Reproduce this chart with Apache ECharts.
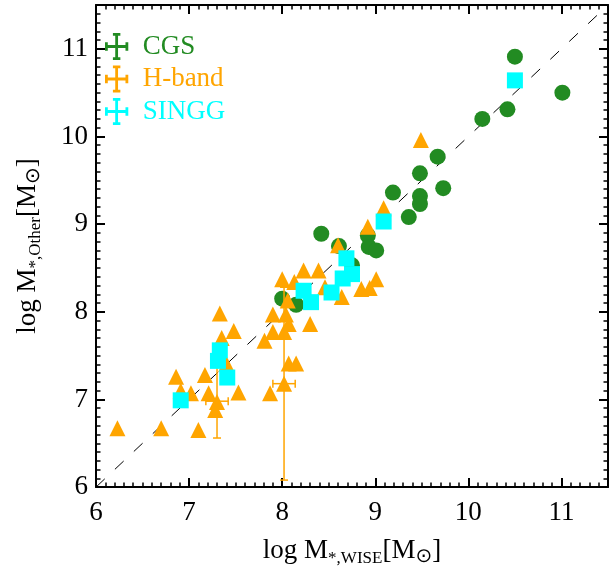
<!DOCTYPE html>
<html><head><meta charset="utf-8">
<script src="https://cdn.jsdelivr.net/npm/echarts@6/dist/echarts.min.js"></script>
<style>html,body{margin:0;padding:0;background:#fff}#c{width:610px;height:572px}</style>
</head><body><div id="c"></div>
<script>
// ---- data ----
const cgsX = [8.00, 8.15, 8.42, 8.61, 8.75, 8.92, 8.93, 9.01, 9.19, 9.36, 9.48, 9.48, 9.48, 9.73, 9.67, 10.15, 10.42, 10.50, 11.01];
const cgsY = [8.15, 8.08, 8.89, 8.75, 8.53, 8.87, 8.74, 8.70, 9.36, 9.08, 9.58, 9.32, 9.23, 9.41, 9.77, 10.20, 10.31, 10.91, 10.50];

const hbandX = [6.23, 6.70, 7.10, 6.86, 6.91, 7.02, 7.17, 7.21, 7.30, 7.28, 7.33, 7.35, 7.48, 7.53, 7.40,
                7.81, 7.87, 7.90, 7.90, 8.02, 8.04, 8.07, 8.06, 8.00, 8.02, 8.07, 8.15, 8.13, 8.23, 8.39,
                8.46, 8.30, 8.64, 8.60, 8.85, 8.94, 9.01, 8.92, 9.09, 9.49];
const hbandY = [6.67, 6.67, 6.65, 7.26, 7.10, 7.07, 7.28, 7.07, 6.97, 6.88, 7.98, 7.70, 7.78, 7.08, 7.41,
                7.67, 7.07, 7.97, 7.77, 7.77, 7.97, 7.86, 8.13, 8.37, 7.18, 7.41, 7.41, 8.34, 8.47, 8.47,
                8.28, 7.86, 8.17, 8.76, 8.26, 8.27, 8.37, 8.97, 9.18, 9.96];

// H-band points carrying error bars
const errX  = [7.30, 8.02];
const errY  = [6.98, 7.18];
const errDx = [0.12, 0.12];
const errDy = [0.42, 1.10];

const singgX = [6.91, 7.33, 7.31, 7.41, 8.23, 8.31, 8.53, 8.69, 8.65, 8.75, 9.09, 10.50];
const singgY = [6.99, 7.56, 7.44, 7.25, 8.24, 8.11, 8.22, 8.61, 8.38, 8.43, 9.03, 10.64];

const diagX = [6, 11.5];
const diagY = [6, 11.5];

const xTicks = [6, 7, 8, 9, 10, 11];
const yTicks = [6, 7, 8, 9, 10, 11];

// ---- chart ----
const FONT = 'Liberation Serif';
const GREEN = '#228B22', ORANGE = '#FFA500', CYAN = '#00FFFF';
const chart = echarts.init(document.getElementById('c'), null, {renderer: 'canvas'});

const ICON = 'path://M10,0h8v3h-2.5v10h8v-3h3v9h-3v-3h-8v10h2.5v3h-8v-3h2.5v-10h-8v3h-3v-9h3v3h8v-10h-2.5z';

const rich = {
  a: {fontSize: 27, fontFamily: FONT, color: '#000', lineHeight: 32},
  b: {fontSize: 17, fontFamily: FONT, color: '#000', lineHeight: 20, verticalAlign: 'bottom', padding: [18, 0, 0, 0]},
  c: {fontSize: 20, fontFamily: 'DejaVu Sans', color: '#000', lineHeight: 22, verticalAlign: 'bottom', padding: [16, 0, 0, 0]}
};

function mkAxes(dir, ticks) {
  const lo = ticks[0], hi = 11.5;
  const posA = dir === 'x' ? 'bottom' : 'left';
  const posB = dir === 'x' ? 'top' : 'right';
  const major = (pos, main) => ({
    type: 'value', position: pos, min: lo, max: hi, interval: 1,
    axisLine: {show: true, onZero: false, lineStyle: {color: '#000', width: 2}},
    axisTick: {show: true, inside: true, length: 9, lineStyle: {color: '#000', width: 2}},
    axisLabel: main ? {show: true, fontSize: 27, fontFamily: FONT, color: '#000', margin: dir === 'x' ? 12 : 8,
      showMaxLabel: false, formatter: v => ticks.indexOf(v) >= 0 ? String(v) : ''} : {show: false},
    splitLine: {show: false}
  });
  const minor = (pos) => ({
    type: 'value', position: pos, min: lo, max: hi, interval: 0.1,
    axisLine: {show: false, onZero: false},
    axisTick: {show: true, inside: true, length: 4.5, lineStyle: {color: '#000', width: 1.5}},
    axisLabel: {show: false}, splitLine: {show: false}
  });
  const a = major(posA, true);
  if (dir === 'x') {
    a.name = '{a|log M}{b|*,WISE}{a|[M}{c|⊙}{a|]}';
    a.nameGap = 44;
  } else {
    a.name = '{a|log M}{b|*,Other}{a|[M}{c|⊙}{a|]}';
    a.nameGap = 52;
  }
  a.nameLocation = 'middle';
  a.nameTextStyle = {rich};
  return [a, minor(posA), major(posB, false), minor(posB)];
}

const option = {
  animation: false,
  backgroundColor: '#fff',
  grid: {left: 91, right: 2, top: 5, bottom: 83, containLabel: false},
  xAxis: mkAxes('x', xTicks),
  yAxis: mkAxes('y', yTicks),
  legend: {
    orient: 'vertical', left: 100, top: 28, itemWidth: 42, itemHeight: 27, itemGap: 5.5,
    symbolKeepAspect: true,
    textStyle: {fontSize: 27, fontFamily: FONT},
    data: [
      {name: 'CGS', icon: ICON, textStyle: {color: GREEN}},
      {name: 'H-band', icon: ICON, textStyle: {color: ORANGE}},
      {name: 'SINGG', icon: ICON, textStyle: {color: CYAN}}
    ]
  },
  series: [
    {type: 'line', name: 'one', data: diagX.map((x, i) => [x, diagY[i]]), symbol: 'none',
     lineStyle: {color: '#000', width: 1, type: [12, 14]}, silent: true, z: 1},
    {type: 'scatter', name: 'CGS', data: cgsX.map((x, i) => [x, cgsY[i]]), symbol: 'circle', symbolSize: 16,
     itemStyle: {color: GREEN, opacity: 1}, z: 2},
    {type: 'scatter', name: 'H-band', data: hbandX.map((x, i) => [x, hbandY[i]]), symbol: 'triangle', symbolSize: 16,
     itemStyle: {color: ORANGE, opacity: 1}, z: 3},
    {type: 'custom', name: 'H-band err', z: 4,
     data: errX.map((x, i) => [x, errY[i], errDx[i], errDy[i]]),
     encode: {x: 0, y: 1},
     renderItem: function (params, api) {
       const x = api.value(0), y = api.value(1), dx = api.value(2), dy = api.value(3);
       const l = api.coord([x - dx, y]), r = api.coord([x + dx, y]);
       const t = api.coord([x, y + dy]), b = api.coord([x, y - dy]);
       const cap = 4;
       const st = {stroke: ORANGE, lineWidth: 1.5};
       const ln = (x1, y1, x2, y2) => ({type: 'line', shape: {x1, y1, x2, y2}, style: st});
       return {type: 'group', children: [
         ln(l[0], l[1], r[0], r[1]), ln(l[0], l[1] - cap, l[0], l[1] + cap), ln(r[0], r[1] - cap, r[0], r[1] + cap),
         ln(t[0], t[1], b[0], b[1]), ln(t[0] - cap, t[1], t[0] + cap, t[1]), ln(b[0] - cap, b[1], b[0] + cap, b[1])
       ]};
     }},
    {type: 'scatter', name: 'SINGG', data: singgX.map((x, i) => [x, singgY[i]]), symbol: 'rect', symbolSize: 16,
     itemStyle: {color: CYAN, opacity: 1}, z: 5}
  ]
};
chart.setOption(option);
</script>
</body></html>
